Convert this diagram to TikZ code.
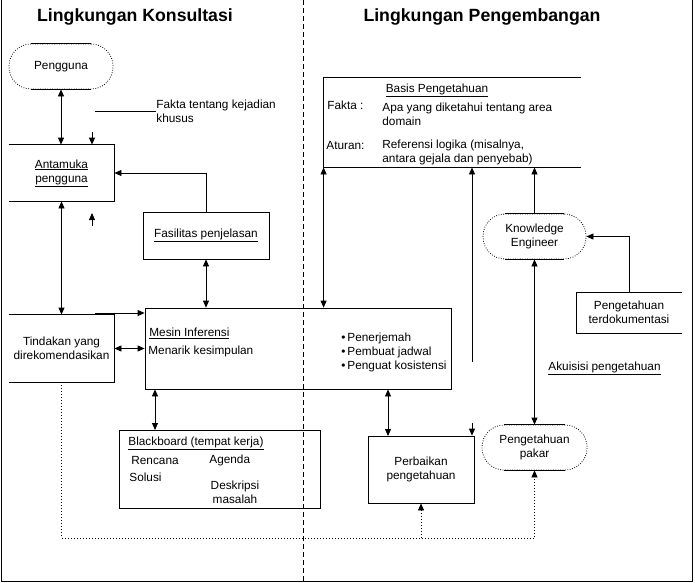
\documentclass[tikz,border=0pt]{standalone}
\usepackage{fontspec}
\setmainfont{Liberation Sans}
\usetikzlibrary{arrows.meta}

\tikzset{
  kotak/.style={draw,inner sep=0pt},
  stadion/.style={draw,dash pattern=on 0.8pt off 1.6pt,rounded corners=22pt,
    inner sep=0pt,align=center},
  titik/.style={dash pattern=on 1pt off 2pt},
  pembatas/.style={dash pattern=on 5pt off 3pt},
  judul/.style={font=\fontsize{17.7}{20}\selectfont\bfseries}
}

\begin{document}
\begin{tikzpicture}[x=1pt,y=-1pt,line width=0.8pt,
    >={Triangle[length=7pt,width=6pt]},
    every node/.style={font=\fontsize{11.8}{14}\selectfont,inner sep=0pt}]
  \useasboundingbox (0,0) rectangle (695,582);
  \draw (1,0) -- (1,581) -- (692,581) -- (692,0);
  \draw[pembatas] (303,0) -- (303,581);
  \node[judul] (kiri) at (135,17) {Lingkungan Konsultasi};
  \node[judul] (kanan) at (482,17) {Lingkungan Pengembangan};

  % lingkungan konsultasi
  \node[stadion,minimum width=104pt,minimum height=45pt] (pengguna) at (61,66.5) {Pengguna};
  \draw ([xshift=22pt]pengguna.north west) -- ([xshift=-22pt]pengguna.north east);
  \draw ([xshift=22pt]pengguna.south west) -- ([xshift=-22pt]pengguna.south east);
  \node[anchor=west,align=left] (fakta) at (156,111) {Fakta tentang kejadian\\khusus};
  \coordinate (faktaawal) at (95,111);
  \draw (faktaawal) -- (fakta.west);

  \node[minimum width=105pt,minimum height=56pt,align=center] (antamuka) at (61.5,173)
    {\underline{Antamuka}\\\underline{pengguna}};
  \draw (antamuka.north west) -- (antamuka.north east) -- (antamuka.south east) -- (antamuka.south west);
  \node[kotak,minimum width=126pt,minimum height=47pt] (fasilitas) at (206,235.5)
    {\underline{Fasilitas penjelasan}};
  \node[minimum width=105pt,minimum height=67pt,align=center] (tindakan) at (61.5,348.5)
    {Tindakan yang\\direkomendasikan};
  \draw (tindakan.north west) -- (tindakan.north east) -- (tindakan.south east) -- (tindakan.south west);

  \node[kotak,minimum width=306pt,minimum height=81pt] (mesin) at (298,348.5) {};
  \node[anchor=west] (mesinjudul) at (149,333) {\underline{Mesin Inferensi}};
  \node[anchor=west] (menarik) at (148,351) {Menarik kesimpulan};
  \node[anchor=west,align=left] (tugas) at (341,352)
    {\textbullet\,Penerjemah\\\textbullet\,Pembuat jadwal\\\textbullet\,Penguat kosistensi};

  \node[kotak,minimum width=201pt,minimum height=78pt] (blackboard) at (219.5,469) {};
  \node[anchor=west] (bbjudul) at (128,443) {\underline{Blackboard (tempat kerja)}};
  \node[anchor=west] (rencana) at (131,460) {Rencana};
  \node[anchor=west] (agenda) at (209,460) {Agenda};
  \node[anchor=west] (solusi) at (129,477) {Solusi};
  \node[align=center] (deskripsi) at (235,492) {Deskripsi\\masalah};

  % lingkungan pengembangan
  \node[minimum width=257pt,minimum height=89pt] (basis) at (452.5,122.5) {};
  \draw (basis.north east) -- (basis.north west) -- (basis.south west) -- (basis.south east);
  \node (basisjudul) at (437,90) {\underline{Basis Pengetahuan}};
  \node[anchor=west] (faktalabel) at (327,105) {Fakta :};
  \node[anchor=west,align=left] (faktaisi) at (382,114) {Apa yang diketahui tentang area\\domain};
  \node[anchor=west] (aturanlabel) at (326,145) {Aturan:};
  \node[anchor=west,align=left] (aturanisi) at (382,152)
    {Referensi logika (misalnya,\\antara gejala dan penyebab)};

  \node[stadion,minimum width=103pt,minimum height=45pt] (engineer) at (534.5,236.5)
    {Knowledge\\Engineer};
  \draw ([xshift=22pt]engineer.north west) -- ([xshift=-22pt]engineer.north east);
  \draw ([xshift=22pt]engineer.south west) -- ([xshift=-22pt]engineer.south east);
  \node[minimum width=105pt,minimum height=40pt,align=center] (dokumen) at (629,312.5)
    {Pengetahuan\\terdokumentasi};
  \draw (dokumen.north east) -- (dokumen.north west) -- (dokumen.south west) -- (dokumen.south east);
  \node (akuisisi) at (604.5,368) {\underline{Akuisisi pengetahuan}};

  \node[kotak,minimum width=106pt,minimum height=67pt,align=center] (perbaikan) at (421,469.5)
    {Perbaikan\\pengetahuan};
  \node[stadion,minimum width=105pt,minimum height=45pt] (pakar) at (534.5,447.5)
    {Pengetahuan\\pakar};
  \draw ([xshift=22pt]pakar.north west) -- ([xshift=-22pt]pakar.north east);
  \draw ([xshift=22pt]pakar.south west) -- ([xshift=-22pt]pakar.south east);

  % panah
  \draw[<->] (pengguna.south) -- (pengguna.south |- antamuka.north);
  \coordinate (fakta2) at (92,132);
  \draw[->] (fakta2) -- (fakta2 |- antamuka.north);
  \coordinate (lepas1) at (92,226);
  \coordinate (lepas2) at (92,213);
  \draw[->] (lepas1) -- (lepas2);
  \draw[->] (fasilitas.north) |- (antamuka.east);
  \draw[<->] (fasilitas.south) -- (fasilitas.south |- mesin.north);
  \draw[<->] (antamuka.south) -- (tindakan.north);
  \coordinate (masuk) at (95,313);
  \draw[->] (masuk) -- (masuk -| mesin.west);
  \draw[<->] (tindakan.east) -- (tindakan.east -| mesin.west);
  \coordinate (bb) at (155,430);
  \draw[<->] (bb |- mesin.south) -- (bb);
  \draw[<->] (basis.south west) -- (basis.south west |- mesin.north);
  \coordinate (umpan) at (472,362);
  \draw[->] (umpan) -- (umpan |- basis.south);
  \draw[->] (engineer.north) -- (engineer.north |- basis.south);
  \draw[->] (dokumen.north) |- (engineer.east);
  \draw[<->] (engineer.south) -- (pakar.north);
  \coordinate (pb) at (388,436);
  \draw[<->] (pb |- mesin.south) -- (pb);
  \coordinate (lepas3) at (472,423);
  \draw[->] (lepas3) -- (lepas3 |- perbaikan.north);
  \coordinate (dasar) at (534.5,538);
  \draw[titik,->] (tindakan.south) |- (dasar) -- (pakar.south);
  \draw[titik,->] (perbaikan.south |- dasar) -- (perbaikan.south);
\end{tikzpicture}
\end{document}
